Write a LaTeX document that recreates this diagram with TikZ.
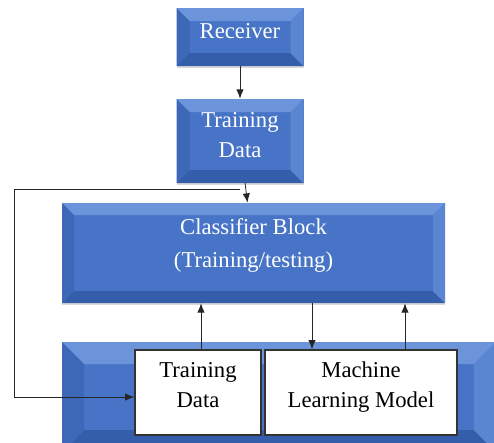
\documentclass[tikz,border=0pt]{standalone}
\usepackage{fontspec}
\setmainfont{Liberation Serif}
\usetikzlibrary{arrows.meta,shadows}

\definecolor{boxmid}{HTML}{4774C6}
\definecolor{boxtop}{HTML}{6B94DB}
\definecolor{boxleft}{HTML}{3D67B7}
\definecolor{boxright}{HTML}{5A86D1}
\definecolor{boxbottom}{HTML}{345DAA}

\tikzset{
  bevelbox/.style={fill=boxmid, text=white, align=center, inner sep=0pt,
    font=\fontsize{17pt}{22.5pt}\selectfont, text depth=9.6pt,
    drop shadow={shadow xshift=0pt, shadow yshift=-1.5pt, opacity=0.3},
    path picture={
      \fill[boxtop] (path picture bounding box.north west) -- (path picture bounding box.north east)
        -- ([shift={(-#1,-#1)}]path picture bounding box.north east)
        -- ([shift={(#1,-#1)}]path picture bounding box.north west) -- cycle;
      \fill[boxbottom] (path picture bounding box.south west) -- (path picture bounding box.south east)
        -- ([shift={(-#1,#1)}]path picture bounding box.south east)
        -- ([shift={(#1,#1)}]path picture bounding box.south west) -- cycle;
      \fill[boxleft] (path picture bounding box.north west) -- (path picture bounding box.south west)
        -- ([shift={(#1,#1)}]path picture bounding box.south west)
        -- ([shift={(#1,-#1)}]path picture bounding box.north west) -- cycle;
      \fill[boxright] (path picture bounding box.north east) -- (path picture bounding box.south east)
        -- ([shift={(-#1,#1)}]path picture bounding box.south east)
        -- ([shift={(-#1,-#1)}]path picture bounding box.north east) -- cycle;
    }},
  bevelbox/.default=9pt,
  whitebox/.style={draw=black!80, fill=white, text=black, align=center, inner sep=0pt,
    line width=0.8pt, font=\fontsize{17pt}{22.5pt}\selectfont, text depth=11.9pt},
  conn/.style={draw=black!85, line width=0.6pt},
}

\begin{document}
\begin{tikzpicture}[x=0.75pt, y=-0.75pt, >={Latex[length=7pt,width=5.5pt]}]
  % page frame
  \clip (0,0) rectangle (494,443);
  % blocks
  \node[bevelbox=9.75pt, minimum width=95.25pt, minimum height=43.5pt] (receiver) at (240,37) {Receiver};
  \node[bevelbox=9.75pt, minimum width=95.25pt, minimum height=63pt] (train) at (240,141) {Training\\Data};
  \node[bevelbox, minimum width=287.25pt, minimum height=75pt, text depth=15.2pt,
        font=\fontsize{17pt}{24.75pt}\selectfont] (classifier) at (253.5,253) {Classifier Block\\(Training/testing)};
  \node[bevelbox=16.5pt, minimum width=325.5pt, minimum height=82.5pt] (mlblock) at (279,397) {};
  % inner boxes
  \node[whitebox, minimum width=94.5pt, minimum height=63.75pt] (tdata) at (198,392.5) {Training\\Data};
  \node[whitebox, minimum width=144pt, minimum height=63.75pt] (model) at (361,392.5) {Machine\\Learning Model};
  % connectors
  \coordinate (corner) at (14,189);
  \draw[conn,->] (receiver) -- (train);
  \draw[conn,->] (train) -- (classifier);
  \draw[conn,->] (train.south |- corner) -- (corner) |- ([yshift=-3.4pt]tdata.west);
  \draw[conn,->] ([xshift=2.25pt]tdata.north) -- ([xshift=2.25pt]tdata.north |- classifier.south);
  \draw[conn,->] ([xshift=-36.75pt]model.north |- classifier.south) -- ([xshift=-36.75pt]model.north);
  \draw[conn,->] ([xshift=33pt]model.north) -- ([xshift=33pt]model.north |- classifier.south);
\end{tikzpicture}
\end{document}
